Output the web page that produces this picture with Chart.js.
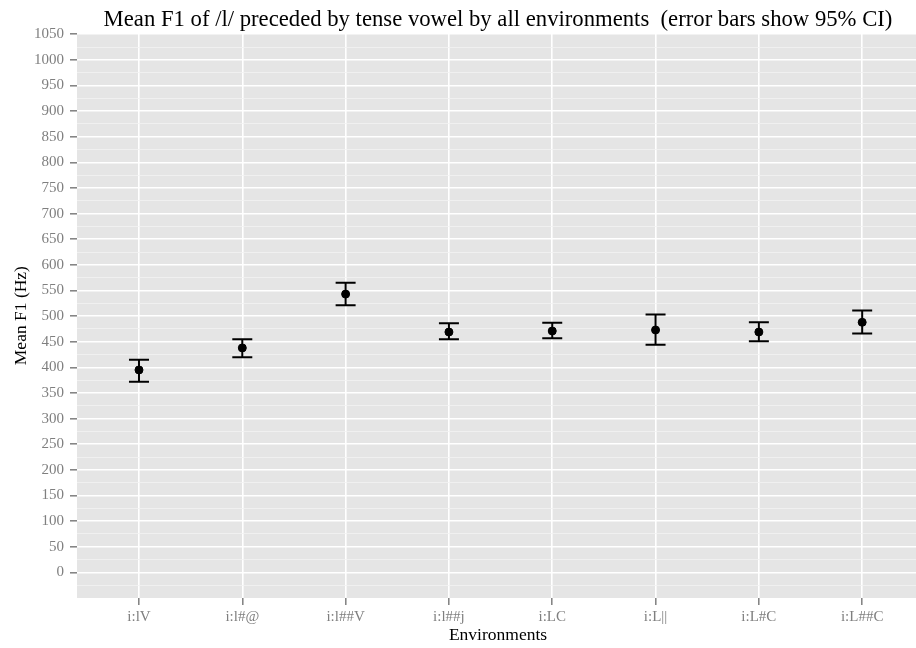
<!DOCTYPE html>
<html>
<head>
<meta charset="utf-8">
<script src="https://cdn.jsdelivr.net/npm/chart.js@4"></script>
<style>
    html, body { margin: 0; padding: 0; overflow: hidden; background: #fff; }
    #f1Chart { display: block; }
</style>
</head>
<body>
<canvas id="f1Chart" width="924" height="648"></canvas>
<script>
const categories = ["i:lV", "i:l#@", "i:l##V", "i:l##j", "i:LC", "i:L||", "i:L#C", "i:L##C"];
const meanF1 = [395, 438, 543, 469, 471, 473, 469, 488];
const ciLower = [372, 420, 521, 455, 457, 444, 451, 466];
const ciUpper = [415, 455, 565, 486, 487, 503, 488, 511];
const yTicks = [0, 50, 100, 150, 200, 250, 300, 350, 400, 450, 500, 550, 600, 650, 700, 750, 800, 850, 900, 950, 1000, 1050];

const SERIF = "'Liberation Serif', 'Times New Roman', serif";
const PANEL = "#e5e5e5";
const TICK_GREY = "#7f7f7f";

const panelBackground = {
    id: "panelBackground",
    beforeDraw(chart) {
        const { ctx, chartArea } = chart;
        ctx.save();
        ctx.fillStyle = PANEL;
        ctx.fillRect(chartArea.left, chartArea.top, chartArea.right - chartArea.left, chartArea.bottom - chartArea.top);
        ctx.restore();
    },
};

const errorBars = {
    id: "errorBars",
    beforeDatasetsDraw(chart) {
        const { ctx, scales } = chart;
        const half = 10;
        ctx.save();
        ctx.strokeStyle = "#000";
        ctx.lineWidth = 2;
        categories.forEach((cat, i) => {
            const x = scales.x.getPixelForValue(i);
            const yLo = scales.y.getPixelForValue(ciLower[i]);
            const yHi = scales.y.getPixelForValue(ciUpper[i]);
            ctx.beginPath();
            ctx.moveTo(x, yLo);
            ctx.lineTo(x, yHi);
            ctx.moveTo(x - half, yLo);
            ctx.lineTo(x + half, yLo);
            ctx.moveTo(x - half, yHi);
            ctx.lineTo(x + half, yHi);
            ctx.stroke();
        });
        ctx.restore();
    },
};

const isMajor = (value) => value >= 0 && value % 50 === 0;

new Chart(document.getElementById("f1Chart"), {
    type: "scatter",
    data: {
        datasets: [{
            label: "Mean F1",
            data: meanF1.map((m, i) => ({ x: i, y: m })),
            backgroundColor: "#000",
            borderColor: "#000",
            pointRadius: 4,
            pointHoverRadius: 4,
        }],
    },
    options: {
        responsive: false,
        animation: false,
        devicePixelRatio: 1,
        layout: { padding: 0 },
        plugins: {
            legend: { display: false },
            tooltip: { enabled: false },
            title: {
                display: true,
                fullSize: false,
                text: "Mean F1 of /l/ preceded by tense vowel by all environments  (error bars show 95% CI)",
                color: "#000",
                font: { family: SERIF, size: 22.7, weight: "normal", lineHeight: 1.2 },
                padding: { top: 6, bottom: 0 },
            },
        },
        scales: {
            x: {
                type: "linear",
                min: -0.6,
                max: 7.55,
                afterBuildTicks(scale) {
                    scale.ticks = categories.map((c, i) => ({ value: i }));
                },
                afterFit(scale) {
                    scale.height = 50;
                },
                ticks: {
                    autoSkip: false,
                    maxRotation: 0,
                    padding: 3,
                    color: TICK_GREY,
                    font: { family: SERIF, size: 15 },
                    callback: (value) => categories[value],
                },
                grid: {
                    color: "#ffffff",
                    lineWidth: 1.6,
                    tickLength: 7,
                    tickColor: TICK_GREY,
                    tickWidth: 1.5,
                },
                border: { display: false },
                title: {
                    display: true,
                    text: "Environments",
                    color: "#000",
                    font: { family: SERIF, size: 17.5, lineHeight: 1.2 },
                    padding: { top: 0, bottom: 2.5 },
                },
            },
            y: {
                type: "linear",
                min: -50,
                max: 1052,
                afterBuildTicks(scale) {
                    const all = [];
                    yTicks.forEach((v) => {
                        all.push({ value: v - 25 });
                        all.push({ value: v });
                    });
                    scale.ticks = all;
                },
                afterFit(scale) {
                    scale.width = 77;
                },
                ticks: {
                    autoSkip: false,
                    padding: 6,
                    color: TICK_GREY,
                    font: { family: SERIF, size: 15 },
                    callback: (value) => (isMajor(value) ? String(value) : ""),
                },
                grid: {
                    color: (ctx) => (isMajor(ctx.tick.value) ? "#ffffff" : "#f2f2f2"),
                    lineWidth: (ctx) => (isMajor(ctx.tick.value) ? 1.6 : 0.8),
                    tickLength: 7,
                    tickColor: (ctx) => (isMajor(ctx.tick.value) ? TICK_GREY : "rgba(0,0,0,0)"),
                    tickWidth: 1.5,
                },
                border: { display: false },
                title: {
                    display: true,
                    text: "Mean F1 (Hz)",
                    color: "#000",
                    font: { family: SERIF, size: 17.5, lineHeight: 1.2 },
                    padding: { top: 11, bottom: 0 },
                },
            },
        },
    },
    plugins: [panelBackground, errorBars],
});
</script>
</body>
</html>
